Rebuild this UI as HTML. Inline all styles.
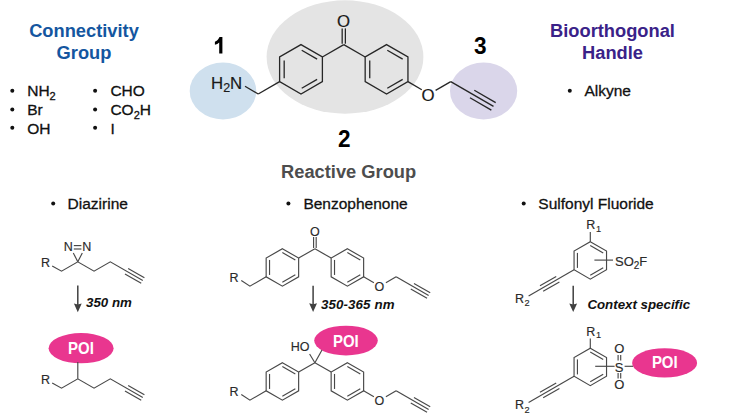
<!DOCTYPE html>
<html><head><meta charset="utf-8"><title>Photoaffinity probe design</title><style>
html,body{margin:0;padding:0;background:#fff;}
body{width:735px;height:415px;overflow:hidden;}
svg{display:block;}
text{font-family:"Liberation Sans",sans-serif;}
.bt{stroke:#262626;stroke-width:1.3;fill:none;stroke-linecap:butt;stroke-linejoin:miter;}
.bb{stroke:#484848;stroke-width:1.15;fill:none;stroke-linejoin:miter;}
.ar{stroke:#404040;stroke-width:1.5;}
.atl{font-size:16.8px;fill:#1a1a1a;stroke:#1a1a1a;stroke-width:0.2px;}
.atb{font-size:12.5px;fill:#2a2a2a;stroke:#2a2a2a;stroke-width:0.15px;}
.ats{font-size:13px;fill:#2a2a2a;stroke:#2a2a2a;stroke-width:0.15px;}
.sub{font-size:12.5px;}
.sub2{font-size:11px;}
.sub3{font-size:10px;}
.sub4{font-size:9.2px;}
.num{font-size:22.6px;font-weight:bold;fill:#000;}
.h1{font-size:18.3px;font-weight:bold;}
.blue{fill:#1456a0;}
.purple{fill:#3a2288;}
.gray{fill:#4d4d4d;}
.bl{font-size:15.5px;fill:#111;stroke:#111;stroke-width:0.3px;}
.arl{font-size:13.3px;font-weight:bold;font-style:italic;fill:#111;}
.poi{font-size:15px;font-weight:bold;fill:#fff;}
</style></head>
<body><svg width="735" height="415" viewBox="0 0 735 415">
<rect width="735" height="415" fill="#fff"/>
<ellipse cx="345" cy="57" rx="78.4" ry="56.7" fill="#e4e4e4"/>
<ellipse cx="223" cy="91" rx="33.3" ry="28.4" fill="#cfe0ee"/>
<ellipse cx="483.6" cy="91" rx="33.6" ry="28.4" fill="#dad6ea"/>
<ellipse cx="81.1" cy="348.2" rx="32.5" ry="15.1" fill="#e9368f"/>
<ellipse cx="346.0" cy="340.6" rx="31.8" ry="14.9" fill="#e9368f"/>
<ellipse cx="664.6" cy="362.9" rx="32.5" ry="14.7" fill="#e9368f"/>
<polygon points="301.00,44.60 322.39,56.95 322.39,81.65 301.00,94.00 279.61,81.65 279.61,56.95" class="bt"/>
<line x1="284.18" y1="60.41" x2="284.18" y2="78.19" class="bt"/>
<line x1="301.71" y1="50.29" x2="317.11" y2="59.18" class="bt"/>
<line x1="317.11" y1="79.42" x2="301.71" y2="88.31" class="bt"/>
<polygon points="386.56,44.60 407.95,56.95 407.95,81.65 386.56,94.00 365.17,81.65 365.17,56.95" class="bt"/>
<line x1="369.74" y1="60.41" x2="369.74" y2="78.19" class="bt"/>
<line x1="387.27" y1="50.29" x2="402.67" y2="59.18" class="bt"/>
<line x1="402.67" y1="79.42" x2="387.27" y2="88.31" class="bt"/>
<line x1="322.39" y1="56.95" x2="343.78" y2="44.60" class="bt"/>
<line x1="343.78" y1="44.60" x2="365.17" y2="56.95" class="bt"/>
<line x1="342.18" y1="43.70" x2="342.18" y2="28.40" class="bt"/>
<line x1="345.38" y1="43.70" x2="345.38" y2="28.40" class="bt"/>
<line x1="279.61" y1="81.65" x2="258.22" y2="94.00" class="bt"/>
<line x1="258.22" y1="94.00" x2="245.00" y2="86.30" class="bt"/>
<line x1="407.95" y1="81.65" x2="421.80" y2="89.80" class="bt"/>
<line x1="435.60" y1="90.40" x2="450.74" y2="81.65" class="bt"/>
<line x1="450.74" y1="81.65" x2="493.52" y2="106.35" class="bt"/>
<line x1="469.97" y1="97.74" x2="491.36" y2="110.09" class="bt"/>
<line x1="474.29" y1="90.26" x2="495.68" y2="102.61" class="bt"/>
<path d="M219.5,37.0 L222.4,37.0 L222.4,53.6 L219.2,53.6 L219.2,42.4 C218.1,43.5 216.6,44.3 214.9,44.8 L214.9,41.7 C216.9,40.9 218.6,39.3 219.5,37.0 Z" fill="#000"/>
<polyline points="52.20,265.90 61.55,271.18 77.80,261.80 94.05,271.18 110.30,261.80 142.80,280.56" class="bb"/>
<line x1="124.96" y1="273.94" x2="141.21" y2="283.32" class="bb"/>
<line x1="128.14" y1="268.42" x2="144.39" y2="277.80" class="bb"/>
<line x1="77.80" y1="261.80" x2="73.30" y2="253.00" class="bb"/>
<line x1="77.80" y1="261.80" x2="82.30" y2="253.00" class="bb"/>
<line x1="73.80" y1="245.60" x2="81.40" y2="245.60" class="bb"/>
<line x1="73.80" y1="249.00" x2="81.40" y2="249.00" class="bb"/>
<polyline points="52.20,382.90 61.55,388.18 77.80,378.80 94.05,388.18 110.30,378.80 142.80,397.56" class="bb"/>
<line x1="124.96" y1="390.94" x2="141.21" y2="400.32" class="bb"/>
<line x1="128.14" y1="385.42" x2="144.39" y2="394.80" class="bb"/>
<line x1="77.80" y1="378.80" x2="77.80" y2="362.00" class="bb"/>
<polygon points="282.40,248.70 298.64,258.07 298.64,276.82 282.40,286.20 266.16,276.82 266.16,258.07" class="bb"/>
<line x1="269.54" y1="259.95" x2="269.54" y2="274.95" class="bb"/>
<line x1="282.34" y1="252.56" x2="295.33" y2="260.06" class="bb"/>
<line x1="295.33" y1="274.84" x2="282.34" y2="282.34" class="bb"/>
<polygon points="347.39,248.70 363.63,258.07 363.63,276.82 347.39,286.20 331.15,276.82 331.15,258.07" class="bb"/>
<line x1="334.52" y1="259.95" x2="334.52" y2="274.95" class="bb"/>
<line x1="347.32" y1="252.56" x2="360.31" y2="260.06" class="bb"/>
<line x1="360.31" y1="274.84" x2="347.32" y2="282.34" class="bb"/>
<line x1="298.64" y1="258.07" x2="314.89" y2="248.69" class="bb"/>
<line x1="314.89" y1="248.69" x2="331.15" y2="258.07" class="bb"/>
<polyline points="266.16,276.82 249.91,286.20 241.30,280.60" class="bb"/>
<line x1="363.63" y1="276.82" x2="373.88" y2="282.70" class="bb"/>
<line x1="385.88" y1="282.70" x2="396.13" y2="276.82" class="bb"/>
<line x1="396.13" y1="276.82" x2="428.63" y2="295.58" class="bb"/>
<line x1="410.78" y1="288.97" x2="427.03" y2="298.35" class="bb"/>
<line x1="413.97" y1="283.44" x2="430.22" y2="292.82" class="bb"/>
<line x1="313.59" y1="248.00" x2="313.59" y2="237.00" class="bb"/>
<line x1="316.19" y1="248.00" x2="316.19" y2="237.00" class="bb"/>
<polygon points="282.40,362.70 298.64,372.07 298.64,390.82 282.40,400.20 266.16,390.82 266.16,372.07" class="bb"/>
<line x1="269.54" y1="373.95" x2="269.54" y2="388.95" class="bb"/>
<line x1="282.34" y1="366.56" x2="295.33" y2="374.06" class="bb"/>
<line x1="295.33" y1="388.84" x2="282.34" y2="396.34" class="bb"/>
<polygon points="347.39,362.70 363.63,372.07 363.63,390.82 347.39,400.20 331.15,390.82 331.15,372.07" class="bb"/>
<line x1="334.52" y1="373.95" x2="334.52" y2="388.95" class="bb"/>
<line x1="347.32" y1="366.56" x2="360.31" y2="374.06" class="bb"/>
<line x1="360.31" y1="388.84" x2="347.32" y2="396.34" class="bb"/>
<line x1="298.64" y1="372.07" x2="314.89" y2="362.69" class="bb"/>
<line x1="314.89" y1="362.69" x2="331.15" y2="372.07" class="bb"/>
<polyline points="266.16,390.82 249.91,400.20 241.30,394.60" class="bb"/>
<line x1="363.63" y1="390.82" x2="373.88" y2="396.70" class="bb"/>
<line x1="385.88" y1="396.70" x2="396.13" y2="390.82" class="bb"/>
<line x1="396.13" y1="390.82" x2="428.63" y2="409.58" class="bb"/>
<line x1="410.78" y1="402.97" x2="427.03" y2="412.35" class="bb"/>
<line x1="413.97" y1="397.44" x2="430.22" y2="406.82" class="bb"/>
<line x1="314.89" y1="362.69" x2="309.60" y2="354.00" class="bb"/>
<line x1="314.89" y1="362.69" x2="322.00" y2="350.00" class="bb"/>
<polygon points="590.30,241.65 606.54,251.02 606.54,269.77 590.30,279.15 574.06,269.77 574.06,251.02" class="bb"/>
<line x1="577.44" y1="252.90" x2="577.44" y2="267.90" class="bb"/>
<line x1="590.24" y1="245.51" x2="603.23" y2="253.01" class="bb"/>
<line x1="603.23" y1="267.79" x2="590.24" y2="275.29" class="bb"/>
<line x1="590.30" y1="241.65" x2="590.30" y2="231.90" class="bb"/>
<line x1="574.06" y1="269.77" x2="528.60" y2="295.90" class="bb"/>
<line x1="556.22" y1="276.39" x2="539.97" y2="285.77" class="bb"/>
<line x1="559.41" y1="281.92" x2="543.16" y2="291.30" class="bb"/>
<line x1="594.40" y1="260.10" x2="613.00" y2="260.10" class="bb"/>
<polygon points="590.30,348.15 606.54,357.52 606.54,376.27 590.30,385.65 574.06,376.27 574.06,357.52" class="bb"/>
<line x1="577.44" y1="359.40" x2="577.44" y2="374.40" class="bb"/>
<line x1="590.24" y1="352.01" x2="603.23" y2="359.51" class="bb"/>
<line x1="603.23" y1="374.29" x2="590.24" y2="381.79" class="bb"/>
<line x1="590.30" y1="348.15" x2="590.30" y2="338.40" class="bb"/>
<line x1="574.06" y1="376.27" x2="528.60" y2="402.40" class="bb"/>
<line x1="556.22" y1="382.89" x2="539.97" y2="392.27" class="bb"/>
<line x1="559.41" y1="388.42" x2="543.16" y2="397.80" class="bb"/>
<line x1="595.20" y1="366.30" x2="614.60" y2="366.30" class="bb"/>
<line x1="624.60" y1="366.30" x2="633.00" y2="366.30" class="bb"/>
<line x1="618.10" y1="355.00" x2="618.10" y2="360.60" class="bb"/>
<line x1="618.10" y1="373.00" x2="618.10" y2="378.60" class="bb"/>
<line x1="620.70" y1="355.00" x2="620.70" y2="360.60" class="bb"/>
<line x1="620.70" y1="373.00" x2="620.70" y2="378.60" class="bb"/>
<g fill="#111"><circle cx="12.3" cy="90.8" r="2"/><circle cx="12.3" cy="109.6" r="2"/><circle cx="12.3" cy="127.7" r="2"/><circle cx="95.1" cy="90.8" r="2"/><circle cx="95.1" cy="109.6" r="2"/><circle cx="95.1" cy="127.7" r="2"/><circle cx="569.8" cy="90.8" r="2"/><circle cx="53.2" cy="203.4" r="2"/><circle cx="288.4" cy="203.5" r="2"/><circle cx="523.7" cy="203.5" r="2"/></g>
<line x1="77.8" y1="285.4" x2="77.8" y2="307.6" class="ar"/>
<path d="M73.89999999999999,303.6 L77.8,312.20000000000005 L81.7,303.6 L77.8,304.6 Z" fill="#404040"/>
<line x1="313.1" y1="285.7" x2="313.1" y2="307.3" class="ar"/>
<path d="M309.20000000000005,303.3 L313.1,311.90000000000003 L317.0,303.3 L313.1,304.3 Z" fill="#404040"/>
<line x1="573.2" y1="285.7" x2="573.2" y2="307.4" class="ar"/>
<path d="M569.3000000000001,303.4 L573.2,312.0 L577.1,303.4 L573.2,304.4 Z" fill="#404040"/>
<text x="343.48" y="27.20" class="atl" text-anchor="middle" >O</text>
<text x="211.00" y="88.80" class="atl" text-anchor="start" >H<tspan class="sub" dy="3.6">2</tspan><tspan dy="-3.6">N</tspan></text>
<text x="428.00" y="100.90" class="atl" text-anchor="middle" >O</text>
<text x="474.00" y="54.30" class="num" text-anchor="start"  transform="translate(0 54.30) scale(1 1.03) translate(0 -54.30)">3</text>
<text x="338.00" y="147.20" class="num" text-anchor="start"  transform="translate(0 147.20) scale(1 1.03) translate(0 -147.20)">2</text>
<text x="84.00" y="37.20" class="h1 blue" text-anchor="middle" >Connectivity</text>
<text x="84.00" y="58.80" class="h1 blue" text-anchor="middle" >Group</text>
<text x="612.50" y="36.80" class="h1 purple" text-anchor="middle" >Bioorthogonal</text>
<text x="612.50" y="58.50" class="h1 purple" text-anchor="middle" >Handle</text>
<text x="348.60" y="177.80" class="h1 gray" text-anchor="middle" >Reactive Group</text>
<text x="27.20" y="96.30" class="bl" text-anchor="start" >NH<tspan class="sub2" dy="3.4">2</tspan></text>
<text x="27.20" y="115.20" class="bl" text-anchor="start" >Br</text>
<text x="27.20" y="133.50" class="bl" text-anchor="start" >OH</text>
<text x="110.40" y="96.30" class="bl" text-anchor="start" >CHO</text>
<text x="110.40" y="115.20" class="bl" text-anchor="start" >CO<tspan class="sub2" dy="3.4">2</tspan><tspan dy="-3.4">H</tspan></text>
<text x="110.40" y="133.50" class="bl" text-anchor="start" >I</text>
<text x="584.40" y="95.90" class="bl" text-anchor="start" >Alkyne</text>
<text x="67.60" y="208.80" class="bl" text-anchor="start" >Diazirine</text>
<text x="303.40" y="208.90" class="bl" text-anchor="start" >Benzophenone</text>
<text x="538.30" y="208.90" class="bl" text-anchor="start" >Sulfonyl Fluoride</text>
<text x="41.00" y="266.60" class="atb" text-anchor="start" >R</text>
<text x="68.30" y="250.60" class="atb" text-anchor="middle" >N</text>
<text x="86.80" y="250.60" class="atb" text-anchor="middle" >N</text>
<text x="41.00" y="383.60" class="atb" text-anchor="start" >R</text>
<text x="229.60" y="281.50" class="atb" text-anchor="start" >R</text>
<text x="379.28" y="291.20" class="atb" text-anchor="middle" >O</text>
<text x="314.89" y="235.60" class="atb" text-anchor="middle" >O</text>
<text x="229.60" y="395.90" class="atb" text-anchor="start" >R</text>
<text x="379.28" y="405.20" class="atb" text-anchor="middle" >O</text>
<text x="290.80" y="351.30" class="atb" text-anchor="start" >HO</text>
<text x="586.30" y="229.40" class="atb" text-anchor="start" >R<tspan class="sub4" dx="0.6" dy="2.4">1</tspan></text>
<text x="515.00" y="302.50" class="atb" text-anchor="start" >R<tspan class="sub4" dx="0.4" dy="3.8">2</tspan></text>
<text x="615.00" y="265.60" class="ats" text-anchor="start" >SO<tspan class="sub3" dy="3.2">2</tspan><tspan dy="-3.2">F</tspan></text>
<text x="586.30" y="335.90" class="atb" text-anchor="start" >R<tspan class="sub4" dx="0.6" dy="2.4">1</tspan></text>
<text x="515.00" y="409.00" class="atb" text-anchor="start" >R<tspan class="sub4" dx="0.4" dy="3.8">2</tspan></text>
<text x="619.20" y="372.40" class="ats" text-anchor="middle" >S</text>
<text x="619.20" y="353.40" class="ats" text-anchor="middle" >O</text>
<text x="619.20" y="389.40" class="ats" text-anchor="middle" >O</text>
<text x="81.00" y="354.20" class="poi" text-anchor="middle"  transform="translate(0 354.20) scale(1 1.1) translate(0 -354.20)">POI</text>
<text x="345.80" y="346.60" class="poi" text-anchor="middle"  transform="translate(0 346.60) scale(1 1.1) translate(0 -346.60)">POI</text>
<text x="664.80" y="368.30" class="poi" text-anchor="middle"  transform="translate(0 368.30) scale(1 1.1) translate(0 -368.30)">POI</text>
<text x="86.00" y="306.90" class="arl" text-anchor="start" >350 nm</text>
<text x="321.00" y="308.50" class="arl" text-anchor="start" letter-spacing="0.12">350-365 nm</text>
<text x="587.40" y="308.60" class="arl" text-anchor="start" >Context specific</text>
</svg></body></html>
